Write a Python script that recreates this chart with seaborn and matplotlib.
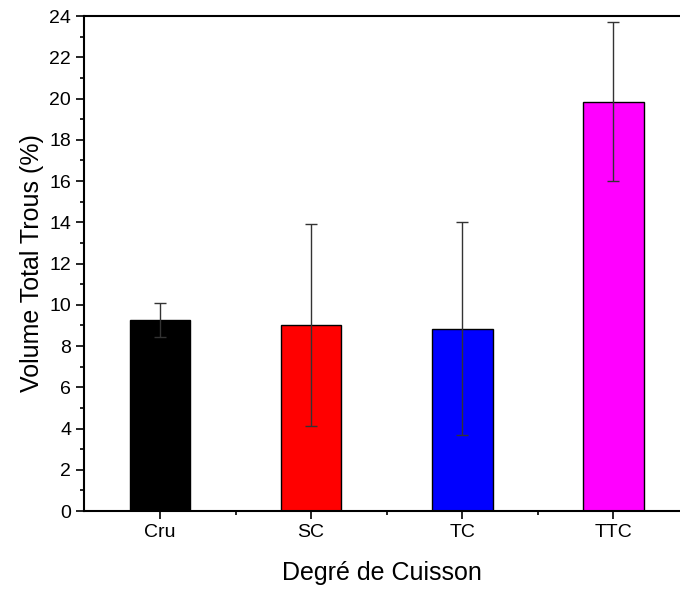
import matplotlib
matplotlib.use("Agg")
import matplotlib.pyplot as plt
import seaborn as sns
import pandas as pd
from matplotlib.ticker import MultipleLocator

categories = ["Cru", "SC", "TC", "TTC"]
means = [9.27, 9.03, 8.84, 19.84]
errors = [0.82, 4.9, 5.15, 3.85]
colors = ["#000000", "#ff0000", "#0000ff", "#ff00ff"]

sns.set_theme(style="ticks")
plt.rcParams['font.family'] = ['Liberation Sans', 'DejaVu Sans']

df = pd.DataFrame({"cat": categories, "val": means})

fig = plt.figure(figsize=(6.8, 5.89), dpi=100)
ax = fig.add_axes([0.124, 0.1324, 0.876, 0.8404])

sns.barplot(data=df, x="cat", y="val", hue="cat", palette=colors, width=0.4,
            edgecolor="black", linewidth=1.0, legend=False, ax=ax, errorbar=None,
            saturation=1)
xs = range(len(categories))
ax.errorbar(list(xs), means, yerr=errors, fmt="none", ecolor="#333333",
            elinewidth=1.0, capsize=4, capthick=1.0, zorder=5)

ax.set_xlim(-0.5, 3.44)
ax.set_ylim(0, 24)
ax.yaxis.set_major_locator(MultipleLocator(2))
ax.yaxis.set_minor_locator(MultipleLocator(1))
ax.set_xticks(list(xs))
ax.set_xticks([0.5, 1.5, 2.5], minor=True)
ax.set_xticklabels(categories)

for s in ["left", "bottom", "top"]:
    ax.spines[s].set_linewidth(1.5)
    ax.spines[s].set_color("black")
ax.spines["right"].set_visible(False)

ax.tick_params(axis="both", which="major", direction="out", length=5.5, width=1.2,
               labelsize=14, colors="black", labelcolor="black", pad=4)
ax.tick_params(axis="both", which="minor", direction="out", length=3, width=1.2,
               colors="black")
ax.tick_params(axis="y", which="both", right=False)
ax.tick_params(axis="x", which="both", top=False)

ax.set_xlabel("Degré de Cuisson", fontsize=18, labelpad=14, color="black")
ax.set_ylabel("Volume Total Trous (%)", fontsize=18, labelpad=4, color="black")

fig.savefig("out.png", dpi=100)
